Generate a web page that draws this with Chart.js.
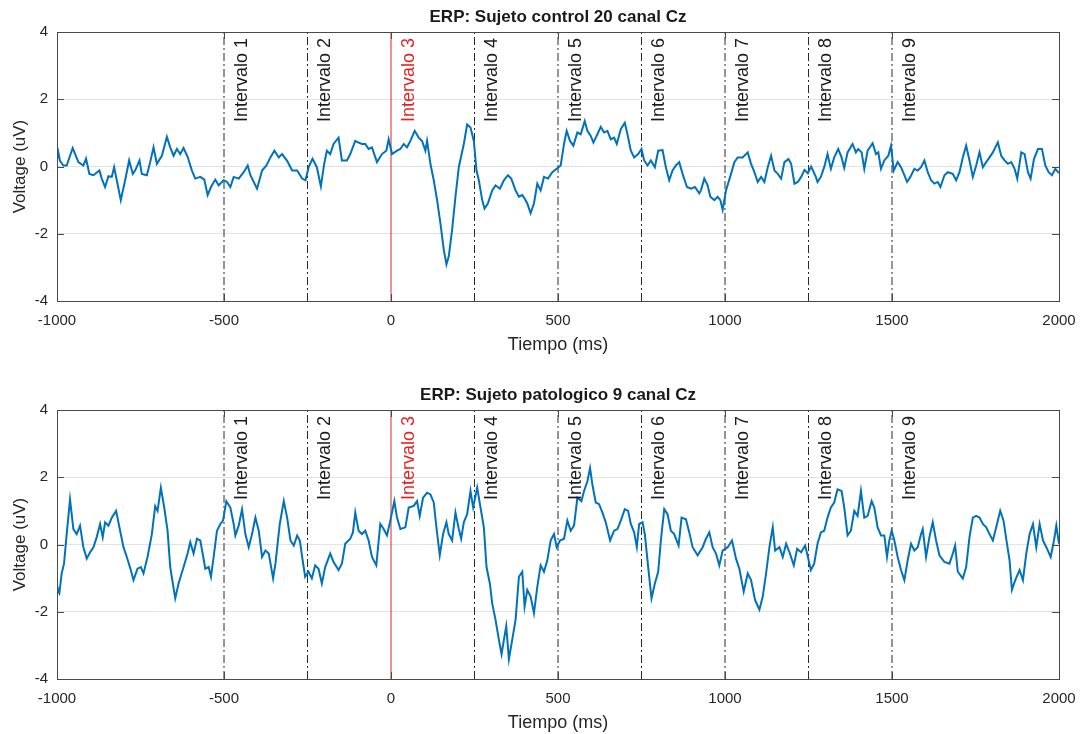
<!DOCTYPE html>
<html>
<head>
<meta charset="utf-8">
<script src="https://cdn.jsdelivr.net/npm/chart.js@4.4.1/dist/chart.umd.min.js"></script>
<style>
  html, body { margin: 0; padding: 0; background: #fff; }
  #wrap { position: relative; width: 1081px; height: 734px; }
  canvas { position: absolute; left: 0; }
  #top { top: 0; }
  #bottom { top: 378px; }
</style>
</head>
<body>
<div id="wrap">
  <canvas id="top" width="1081" height="356"></canvas>
  <canvas id="bottom" width="1081" height="356"></canvas>
</div>
<script>
// [time ms, voltage uV]
const controlTrace = [
  [-1000,0.2],[-996,0.42],[-991,0.17],[-981,0.03],[-971,0.03],[-953,0.55],[-936,0.13],[-921,0.03],[-913,0.23],[-903,-0.22],
  [-891,-0.26],[-873,-0.12],[-866,-0.36],[-856,-0.61],[-846,-0.29],[-836,-0.31],[-829,-0.02],[-821,-0.41],[-809,-1.0],[-796,-0.41],
  [-784,0.18],[-773,-0.22],[-765,-0.1],[-753,0.18],[-746,-0.22],[-731,-0.26],[-721,0.13],[-711,0.57],[-701,0.08],[-686,0.32],
  [-671,0.88],[-661,0.57],[-651,0.32],[-641,0.52],[-631,0.37],[-621,0.55],[-609,0.29],[-596,-0.12],[-586,-0.36],[-571,-0.31],
  [-559,-0.39],[-549,-0.85],[-539,-0.61],[-526,-0.39],[-516,-0.56],[-501,-0.41],[-491,-0.46],[-481,-0.61],[-471,-0.31],[-456,-0.36],
  [-441,-0.17],[-429,0.03],[-421,-0.26],[-401,-0.66],[-386,-0.12],[-373,0.03],[-361,0.27],[-349,0.47],[-336,0.27],[-326,0.37],
  [-311,0.17],[-296,-0.12],[-281,-0.12],[-266,-0.36],[-256,-0.41],[-246,0.0],[-235,0.23],[-222,-0.02],[-210,-0.59],[-200,0.08],
  [-192,0.47],[-182,0.37],[-172,0.67],[-157,0.86],[-147,0.18],[-132,0.18],[-122,0.37],[-107,0.76],[-97,0.71],[-87,0.67],
  [-77,0.67],[-67,0.52],[-57,0.57],[-42,0.13],[-27,0.37],[-14,0.47],[-7,0.81],[3,0.37],[18,0.47],[28,0.52],
  [38,0.67],[48,0.57],[58,0.76],[71,1.06],[83,0.86],[93,0.76],[103,0.47],[108,0.76],[118,0.08],[128,-0.41],
  [138,-1.0],[148,-1.69],[158,-2.47],[166,-2.91],[173,-2.67],[183,-1.88],[193,-0.9],[203,-0.02],[218,0.67],[228,1.25],
  [238,1.16],[248,0.76],[256,-0.12],[263,-0.41],[273,-1.0],[280,-1.25],[290,-1.1],[303,-0.71],[313,-0.56],[326,-0.66],
  [338,-0.41],[350,-0.26],[360,-0.36],[373,-0.71],[383,-0.9],[393,-0.85],[400,-0.95],[408,-1.1],[418,-1.39],[428,-1.1],
  [438,-0.51],[448,-0.71],[458,-0.31],[470,-0.36],[483,-0.17],[498,-0.05],[508,0.03],[518,0.67],[526,1.06],[536,0.76],
  [546,0.62],[558,1.01],[568,0.96],[580,1.35],[588,1.06],[598,0.91],[606,0.71],[618,0.96],[628,1.18],[638,1.01],
  [648,1.06],[658,0.81],[668,0.86],[676,0.67],[688,1.11],[700,1.3],[708,0.96],[718,0.47],[728,0.27],[740,0.37],
  [750,0.52],[758,0.18],[768,0.03],[778,0.18],[790,-0.02],[800,0.47],[813,0.49],[823,-0.02],[833,-0.41],[843,-0.12],
  [853,0.03],[863,0.13],[873,-0.22],[886,-0.61],[898,-0.66],[910,-0.61],[923,-0.8],[928,-0.71],[938,-0.36],[948,-0.56],
  [956,-0.9],[968,-1.0],[978,-0.9],[986,-1.0],[993,-1.29],[1003,-0.71],[1018,-0.22],[1028,0.13],[1038,0.27],[1053,0.27],
  [1068,0.42],[1078,0.08],[1088,-0.17],[1098,-0.46],[1108,-0.31],[1118,-0.46],[1128,-0.02],[1138,0.32],[1148,-0.12],[1158,-0.22],
  [1168,-0.36],[1178,0.13],[1190,0.22],[1198,0.08],[1208,-0.51],[1218,-0.46],[1228,-0.31],[1238,-0.1],[1248,-0.2],[1258,0.0],
  [1272,-0.31],[1277,-0.46],[1287,-0.31],[1297,-0.02],[1307,0.37],[1317,-0.07],[1327,0.27],[1339,0.52],[1349,0.27],[1357,-0.04],
  [1367,0.42],[1382,0.67],[1392,0.42],[1399,0.52],[1409,0.42],[1417,-0.07],[1427,0.47],[1442,0.69],[1452,0.37],[1459,0.42],
  [1467,-0.07],[1477,0.18],[1489,0.32],[1497,0.62],[1505,-0.12],[1517,0.13],[1527,-0.02],[1537,-0.26],[1545,-0.46],[1555,-0.31],
  [1567,-0.07],[1577,-0.12],[1587,-0.02],[1597,0.18],[1607,-0.17],[1617,-0.41],[1627,-0.51],[1637,-0.46],[1645,-0.61],[1657,-0.26],
  [1667,-0.17],[1682,-0.22],[1692,-0.41],[1702,-0.17],[1712,0.27],[1722,0.62],[1732,0.18],[1742,-0.31],[1752,0.03],[1762,0.42],
  [1772,-0.02],[1782,0.13],[1792,0.27],[1802,0.42],[1817,0.72],[1827,0.32],[1837,0.18],[1847,0.08],[1857,0.13],[1867,-0.07],
  [1875,-0.36],[1887,0.42],[1897,0.37],[1907,-0.17],[1915,-0.36],[1925,0.22],[1937,0.52],[1949,0.52],[1959,0.03],[1969,-0.17],
  [1979,-0.26],[1989,-0.07],[2000,-0.2]
];

const patologicoTrace = [
  [-1000,-1.2],[-996,-1.4],[-993,-1.45],[-986,-0.86],[-979,-0.57],[-971,0.31],[-961,1.34],[-951,0.46],[-941,0.31],[-931,0.56],
  [-921,-0.08],[-911,-0.42],[-901,-0.23],[-891,-0.08],[-881,0.22],[-871,0.61],[-863,0.22],[-856,0.66],[-846,0.56],[-836,0.8],
  [-823,1.0],[-811,0.41],[-801,-0.08],[-791,-0.37],[-779,-0.76],[-771,-1.06],[-759,-0.72],[-749,-0.67],[-741,-0.86],[-729,-0.37],
  [-716,0.31],[-706,1.14],[-699,1.0],[-689,1.69],[-679,1.1],[-669,0.41],[-661,-0.67],[-654,-1.11],[-646,-1.6],[-636,-1.16],
  [-621,-0.67],[-609,-0.27],[-601,0.07],[-591,-0.27],[-581,0.17],[-571,0.12],[-563,-0.32],[-556,-0.72],[-546,-0.67],[-539,-0.96],
  [-531,-0.37],[-521,0.41],[-511,0.61],[-503,0.71],[-493,1.29],[-481,1.1],[-471,0.61],[-466,0.27],[-456,0.56],[-446,1.05],
  [-436,0.31],[-426,-0.08],[-416,0.31],[-406,0.8],[-396,0.41],[-386,-0.37],[-376,-0.18],[-366,-0.27],[-353,-1.01],[-346,-0.57],
  [-333,0.61],[-321,1.29],[-311,0.8],[-301,0.12],[-291,-0.03],[-281,0.27],[-273,0.12],[-266,-0.37],[-257,-0.96],[-247,-0.81],
  [-237,-1.01],[-227,-0.62],[-217,-0.72],[-207,-1.16],[-197,-0.67],[-182,-0.27],[-172,-0.52],[-157,-0.76],[-147,-0.57],[-137,0.02],
  [-122,0.17],[-114,0.36],[-107,0.95],[-97,0.41],[-87,0.31],[-77,0.41],[-67,0.12],[-57,-0.37],[-44,-0.62],[-32,0.61],
  [-22,0.46],[-12,0.27],[-2,0.71],[10,1.29],[18,0.8],[28,0.46],[43,0.51],[53,1.1],[68,1.15],[78,1.29],
  [86,0.85],[96,1.39],[108,1.54],[118,1.49],[128,1.25],[136,0.51],[146,-0.32],[156,0.31],[166,0.66],[173,0.31],
  [183,0.12],[193,0.95],[203,0.46],[210,0.17],[218,0.66],[228,0.9],[238,1.59],[246,1.1],[258,1.69],[268,1.1],
  [278,0.51],[286,-0.67],[296,-1.16],[303,-1.75],[313,-2.24],[323,-2.83],[331,-3.26],[340,-2.72],[345,-2.43],[353,-3.41],
  [363,-2.83],[373,-2.24],[383,-0.96],[393,-0.81],[400,-1.84],[408,-1.35],[418,-1.55],[428,-2.04],[438,-1.26],[448,-0.62],
  [458,-0.81],[468,-0.47],[478,0.12],[488,0.31],[496,-0.08],[506,0.12],[518,0.17],[528,0.71],[538,0.41],[548,0.56],
  [558,1.39],[570,1.29],[578,1.59],[588,1.88],[596,2.27],[603,1.78],[613,1.25],[623,1.2],[633,0.95],[643,0.66],
  [656,0.12],[668,0.41],[678,0.46],[688,0.71],[700,1.05],[710,1.0],[718,0.61],[728,0.36],[736,-0.08],[743,0.61],
  [753,0.66],[760,0.31],[770,-0.67],[780,-1.6],[790,-1.16],[800,-0.81],[808,0.12],[818,1.05],[828,0.9],[838,0.41],
  [848,0.31],[861,-0.03],[870,0.8],[883,0.75],[893,0.36],[903,-0.08],[918,-0.32],[933,-0.08],[943,0.17],[953,0.36],
  [963,-0.08],[973,-0.27],[983,-0.62],[993,-0.18],[1008,-0.08],[1021,0.12],[1033,-0.42],[1043,-0.72],[1056,-1.4],[1068,-0.86],
  [1078,-1.06],[1090,-1.65],[1103,-1.94],[1113,-1.55],[1123,-0.86],[1133,-0.08],[1143,0.51],[1150,-0.18],[1163,-0.08],[1173,-0.37],
  [1183,0.02],[1193,-0.23],[1206,-0.62],[1216,-0.13],[1228,-0.23],[1240,-0.03],[1247,-0.32],[1257,-0.76],[1267,-0.57],[1277,0.02],
  [1287,0.36],[1297,0.41],[1307,0.8],[1317,1.1],[1327,1.25],[1337,1.64],[1349,1.59],[1357,1.1],[1367,0.27],[1377,0.41],
  [1387,1.0],[1397,0.85],[1407,1.59],[1417,0.8],[1427,0.85],[1439,1.29],[1447,1.1],[1457,0.51],[1467,0.27],[1477,0.27],
  [1485,-0.37],[1492,0.12],[1499,0.41],[1507,0.12],[1517,-0.37],[1527,-0.76],[1537,-1.06],[1547,-0.47],[1557,0.02],[1567,-0.18],
  [1577,-0.08],[1587,0.31],[1592,0.46],[1602,-0.37],[1612,0.22],[1622,0.66],[1632,0.12],[1642,-0.32],[1657,-0.52],[1672,-0.57],
  [1682,-0.27],[1689,-0.03],[1697,-0.81],[1712,-1.01],[1722,-0.67],[1732,0.22],[1742,0.8],[1752,0.85],[1762,0.8],[1772,0.61],
  [1782,0.51],[1792,0.31],[1802,0.12],[1812,0.51],[1824,1.0],[1834,0.71],[1842,0.17],[1852,-0.47],[1859,-1.35],[1869,-1.06],
  [1882,-0.76],[1892,-1.06],[1902,-0.27],[1912,0.31],[1922,0.61],[1932,-0.08],[1942,0.61],[1952,0.12],[1962,-0.08],[1975,-0.37],
  [1985,0.12],[1992,0.56],[2000,0.02]
];

const intervalStart = [-500, -250, 0, 250, 500, 750, 1000, 1250, 1500];
const intervalLabels = ["Intervalo 1", "Intervalo 2", "Intervalo 3", "Intervalo 4", "Intervalo 5",
                        "Intervalo 6", "Intervalo 7", "Intervalo 8", "Intervalo 9"];
const stimulusIdx = 2; // Intervalo 3 is the red one (stimulus onset)
const xTicks = [-1000, -500, 0, 500, 1000, 1500, 2000];
const yTicks = [-4, -2, 0, 2, 4];

const FONT = '"Liberation Sans", Arial, Helvetica, sans-serif';
const BLUE = '#0072bd';
const RED = '#e52222';
const INK = '#262626';

// draws the matlab-ish box, inner ticks, interval labels and the title
const matlabAxes = {
  id: 'matlabAxes',
  afterDraw(chart, args, opts) {
    const ctx = chart.ctx;
    const a = chart.chartArea;
    const x = chart.scales.x, y = chart.scales.y;
    ctx.save();
    ctx.strokeStyle = '#4a4a4a';
    ctx.lineWidth = 1;
    ctx.beginPath();
    yTicks.forEach(function(v) {
      let py = Math.round(y.getPixelForValue(v)) + 0.5;
      ctx.moveTo(a.left, py); ctx.lineTo(a.left + 7, py);
      ctx.moveTo(a.right, py); ctx.lineTo(a.right - 7, py);
    });
    xTicks.forEach(function(v) {
      let px = Math.round(x.getPixelForValue(v)) + 0.5;
      ctx.moveTo(px, a.bottom); ctx.lineTo(px, a.bottom - 7);
      ctx.moveTo(px, a.top); ctx.lineTo(px, a.top + 7);
    });
    ctx.stroke();
    ctx.strokeRect(Math.round(a.left) + 0.5, Math.round(a.top) + 0.5,
                   Math.round(a.right - a.left), Math.round(a.bottom - a.top));

    ctx.font = '18px ' + FONT;
    ctx.textAlign = 'right';
    ctx.textBaseline = 'top';
    intervalStart.forEach(function(t, i) {
      ctx.save();
      ctx.translate(x.getPixelForValue(t) + 9, a.top + 6);
      ctx.rotate(-Math.PI / 2);
      ctx.fillStyle = i === stimulusIdx ? RED : '#1a1a1a';
      ctx.fillText(intervalLabels[i], 0, 0);
      ctx.restore();
    });

    ctx.font = 'bold 17px ' + FONT;
    ctx.textAlign = 'center';
    ctx.textBaseline = 'middle';
    ctx.fillStyle = '#1a1a1a';
    ctx.fillText(opts.text, (a.left + a.right) / 2, 17);
    ctx.restore();
  }
};

function intervalSets() {
  return intervalStart.map(function(t, i) {
    return {
      data: [{x: t, y: -4}, {x: t, y: 4}],
      borderColor: i === stimulusIdx ? RED : '#2b2b2b',
      borderWidth: 1,
      borderDash: i === stimulusIdx ? [] : [8, 3, 2, 3],
      pointRadius: 0,
      order: 2
    };
  });
}

function plainTick(v) { return String(v); }

function makeChart(id, title, trace) {
  let signal = {
    data: trace.map(function(p) { return {x: p[0], y: p[1]}; }),
    borderColor: BLUE,
    borderWidth: 2,
    pointRadius: 0,
    tension: 0,
    order: 0
  };
  return new Chart(document.getElementById(id), {
    type: 'line',
    data: { datasets: [signal].concat(intervalSets()) },
    plugins: [matlabAxes],
    options: {
      responsive: false,
      animation: false,
      layout: { padding: { top: 32, right: 22, left: 0, bottom: 0 } },
      plugins: {
        legend: { display: false },
        tooltip: { enabled: false },
        matlabAxes: { text: title }
      },
      scales: {
        x: {
          type: 'linear',
          min: -1000, max: 2000,
          afterBuildTicks: function(s) { s.ticks = xTicks.map(function(v) { return {value: v}; }); },
          afterFit: function(s) { s.height = 55; s.paddingLeft = 0; s.paddingRight = 0; },
          ticks: { color: INK, font: { family: FONT, size: 15 }, padding: 11, maxRotation: 0, callback: plainTick },
          grid: { display: false, drawTicks: false },
          border: { display: false },
          title: { display: true, text: 'Tiempo (ms)', color: INK,
                   font: { family: FONT, size: 18 }, padding: { top: 0, bottom: 0 } }
        },
        y: {
          min: -4, max: 4,
          afterBuildTicks: function(s) { s.ticks = yTicks.map(function(v) { return {value: v}; }); },
          afterFit: function(s) { s.width = 57; },
          ticks: { color: INK, font: { family: FONT, size: 15 }, padding: 9, callback: plainTick },
          grid: { color: '#e2e2e2', drawTicks: false },
          border: { display: false },
          title: { display: true, text: 'Voltage (uV)', color: INK,
                   font: { family: FONT, size: 17 }, padding: { top: 10, bottom: 0 } }
        }
      }
    }
  });
}

makeChart('top', 'ERP: Sujeto control 20 canal Cz', controlTrace);
makeChart('bottom', 'ERP: Sujeto patologico 9 canal Cz', patologicoTrace);
</script>
</body>
</html>
